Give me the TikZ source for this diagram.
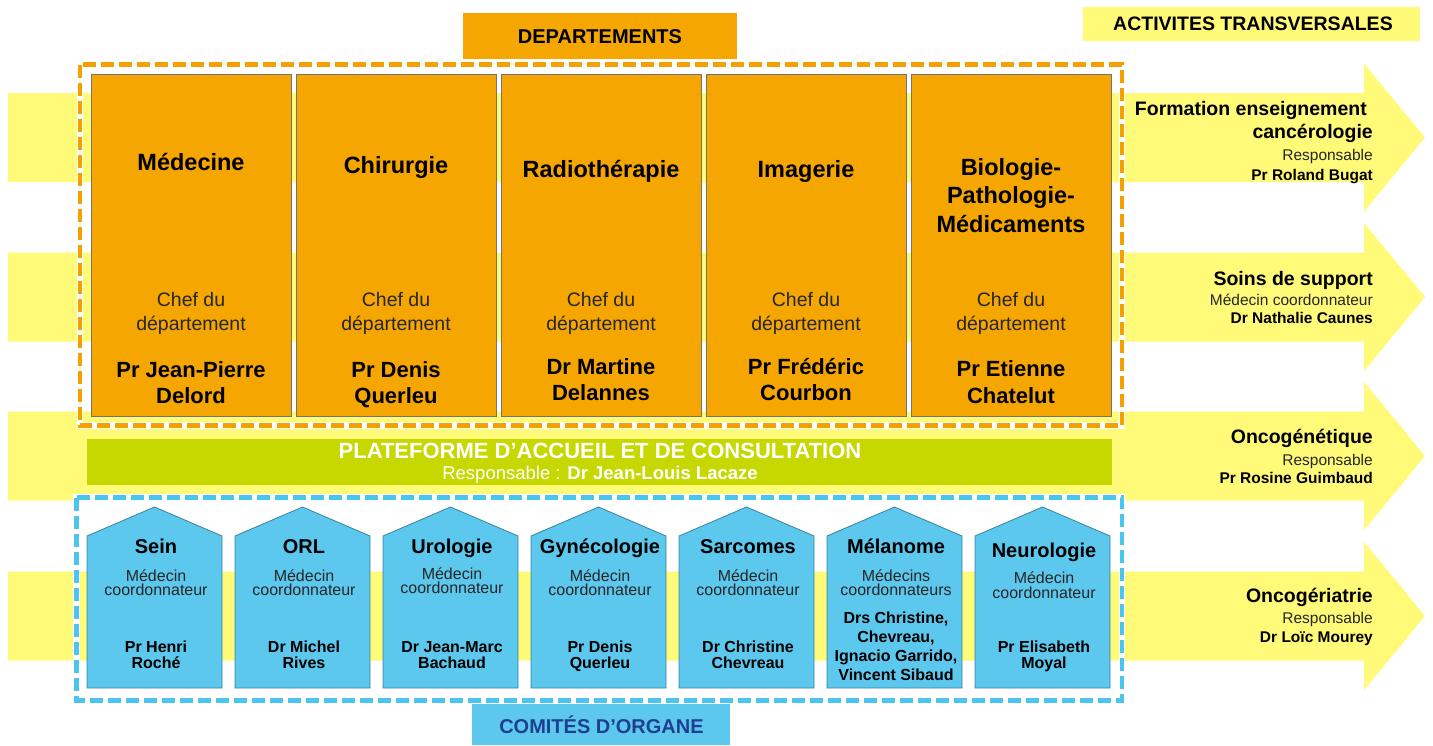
\documentclass[tikz,border=0pt]{standalone}
\usepackage{fontspec}
\setmainfont{Liberation Sans}
\definecolor{deptorange}{HTML}{F5A600}
\definecolor{bandyellow}{HTML}{FFFA78}
\definecolor{organblue}{HTML}{5CC8EE}
\definecolor{platgreen}{HTML}{C6D800}
\definecolor{navyblue}{HTML}{1F3F8F}
\definecolor{dashorange}{HTML}{F5A000}
\definecolor{dashblue}{HTML}{4CC4F0}
\newcommand\fDT{\fontsize{23.5}{28}\selectfont\bfseries}
\newcommand\fDS{\fontsize{19.5}{24}\selectfont}
\newcommand\fDN{\fontsize{22}{26}\selectfont\bfseries}
\newcommand\fAT{\fontsize{19.5}{23}\selectfont\bfseries}
\newcommand\fAS{\fontsize{15.5}{19}\selectfont}
\newcommand\fAN{\fontsize{15.5}{19}\selectfont\bfseries}
\newcommand\fOT{\fontsize{20}{24}\selectfont\bfseries}
\newcommand\fOS{\fontsize{16}{18}\selectfont}
\newcommand\fON{\fontsize{16}{18}\selectfont\bfseries}
\begin{document}
\begin{tikzpicture}[x=1pt,y=-1pt,
  bandarrow/.style={fill=bandyellow,draw=none},
  deptbox/.style={fill=deptorange,draw=black!55,line width=0.8pt},
  organbox/.style={fill=organblue,draw=black!35!organblue,line width=0.8pt},
  under/.style={draw=white,line width=6.5pt},
  odash/.style={draw=dashorange,line width=4.5pt,dash pattern=on 13pt off 5pt},
  bdash/.style={draw=dashblue,line width=4.5pt,dash pattern=on 13pt off 5pt},
  txt/.style={inner sep=0pt,anchor=base,align=center},
  rtxt/.style={inner sep=0pt,anchor=base east},
  soft/.style={text=black!85}]
\useasboundingbox (0,0) rectangle (1433,745);
\fill[white] (0,0) rectangle (1433,745);
% transversal arrows
\foreach \c in {137.5,297,456,616}{
  \fill[bandarrow] (8,\c-44.5) -- (1364,\c-44.5) -- (1364,\c-74) -- (1425,\c)
    -- (1364,\c+74) -- (1364,\c+44.5) -- (8,\c+44.5) -- cycle;
}
% containers
\draw[under] (80,64.5) rectangle (1122,425.5);
\draw[odash] (80,64.5) rectangle (1122,425.5);
\draw[under] (76.5,497.5) rectangle (1122,700.5);
\draw[bdash] (76.5,497.5) rectangle (1122,700.5);
% header boxes
\node[fill=deptorange,minimum width=274pt,minimum height=46pt,inner sep=0pt] (hdept) at (600,36) {};
\node[txt] (hdeptt) at (600,43) {\fontsize{20}{24}\selectfont\bfseries DEPARTEMENTS};
\node[fill=bandyellow,minimum width=337pt,minimum height=34pt,inner sep=0pt] (htrans) at (1251.5,24) {};
\node[txt] (htranst) at (1253,30) {\fontsize{19.5}{23}\selectfont\bfseries ACTIVITES TRANSVERSALES};
% department boxes
\foreach \x [count=\i] in {91,296,501,706,911}{
  \draw[deptbox] (\x,74) rectangle (\x+200,416);
}
\node[txt] (m1) at (191,170) {\fDT Médecine};
\node[txt] (m2) at (396,173) {\fDT Chirurgie};
\node[txt] (m3) at (601,177) {\fDT Radiothérapie};
\node[txt] (m4) at (806,177) {\fDT Imagerie};
\node[txt] (m5a) at (1011,175) {\fDT Biologie-};
\node[txt] (m5b) at (1011,203.5) {\fDT Pathologie-};
\node[txt] (m5c) at (1011,232) {\fDT Médicaments};
\foreach \x [count=\i] in {191,396,601,806,1011}{
  \node[txt,soft] (c\i a) at (\x,306.5) {\fDS Chef du};
  \node[txt,soft] (c\i b) at (\x,330) {\fDS département};
}
\node[txt] (n1a) at (191,377) {\fDN Pr Jean-Pierre};
\node[txt] (n1b) at (191,403) {\fDN Delord};
\node[txt] (n2a) at (396,377) {\fDN Pr Denis};
\node[txt] (n2b) at (396,403) {\fDN Querleu};
\node[txt] (n3a) at (601,374) {\fDN Dr Martine};
\node[txt] (n3b) at (601,400) {\fDN Delannes};
\node[txt] (n4a) at (806,374) {\fDN Pr Frédéric};
\node[txt] (n4b) at (806,400) {\fDN Courbon};
\node[txt] (n5a) at (1011,376) {\fDN Pr Etienne};
\node[txt] (n5b) at (1011,403) {\fDN Chatelut};
% platform
\node[fill=platgreen,minimum width=1025pt,minimum height=46pt,inner sep=0pt] (plat) at (599.5,462) {};
\node[txt,text=white] (platt) at (600,458) {\fontsize{22}{26}\selectfont\bfseries PLATEFORME D’ACCUEIL ET DE CONSULTATION};
\node[txt,text=white] (plats) at (600,479) {\fontsize{18.5}{22}\selectfont Responsable : \textbf{Dr Jean-Louis Lacaze}};
% organ committees
\foreach \x in {87,235,383,531,679,827,975}{
  \draw[organbox] (\x,536) -- (\x+67.5,507) -- (\x+135,536) -- (\x+135,688) -- (\x,688) -- cycle;
}
\node[txt] (o1) at (156,553) {\fOT Sein};
\node[txt] (o2) at (304,553) {\fOT ORL};
\node[txt] (o3) at (452,553) {\fOT Urologie};
\node[txt] (o4) at (600,553) {\fOT Gynécologie};
\node[txt] (o5) at (748,553) {\fOT Sarcomes};
\node[txt] (o6) at (896,553) {\fOT Mélanome};
\node[txt] (o7) at (1044,557) {\fOT Neurologie};
\foreach \x/\ya/\yb [count=\i] in {156/581/595,304/581/595,452/579/593,600/581/595,748/581/595,1044/583/598}{
  \node[txt,soft] (s\i a) at (\x,\ya) {\fOS Médecin};
  \node[txt,soft] (s\i b) at (\x,\yb) {\fOS coordonnateur};
}
\node[txt,soft] (s6ma) at (896,581) {\fOS Médecins};
\node[txt,soft] (s6mb) at (896,595) {\fOS coordonnateurs};
\node[txt] (p1a) at (156,652) {\fON Pr Henri};
\node[txt] (p1b) at (156,668.5) {\fON Roché};
\node[txt] (p2a) at (304,652) {\fON Dr Michel};
\node[txt] (p2b) at (304,668.5) {\fON Rives};
\node[txt] (p3a) at (452,652) {\fON Dr Jean-Marc};
\node[txt] (p3b) at (452,668.5) {\fON Bachaud};
\node[txt] (p4a) at (600,652) {\fON Pr Denis};
\node[txt] (p4b) at (600,668.5) {\fON Querleu};
\node[txt] (p5a) at (748,652) {\fON Dr Christine};
\node[txt] (p5b) at (748,668.5) {\fON Chevreau};
\node[txt] (p6a) at (896,623) {\fON Drs Christine,};
\node[txt] (p6b) at (896,642) {\fON Chevreau,};
\node[txt] (p6c) at (896,661) {\fON Ignacio Garrido,};
\node[txt] (p6d) at (896,680) {\fON Vincent Sibaud};
\node[txt] (p7a) at (1044,652) {\fON Pr Elisabeth};
\node[txt] (p7b) at (1044,668.5) {\fON Moyal};
% comites label
\node[fill=organblue,minimum width=258pt,minimum height=41pt,inner sep=0pt] (comb) at (601,724.5) {};
\node[txt,text=navyblue] (comt) at (601.5,733) {\fontsize{20}{24}\selectfont\bfseries COMITÉS D’ORGANE};
% transversal texts
\node[rtxt] (a1a) at (1367,115) {\fAT Formation enseignement};
\node[rtxt] (a1b) at (1373,138) {\fAT cancérologie};
\node[rtxt,soft] (a1c) at (1373,160) {\fAS Responsable};
\node[rtxt] (a1d) at (1373,180) {\fAN Pr Roland Bugat};
\node[rtxt] (a2a) at (1373,285) {\fAT Soins de support};
\node[rtxt,soft] (a2b) at (1373,305) {\fAS Médecin coordonnateur};
\node[rtxt] (a2c) at (1373,323) {\fAN Dr Nathalie Caunes};
\node[rtxt] (a3a) at (1373,443) {\fAT Oncogénétique};
\node[rtxt,soft] (a3b) at (1373,465) {\fAS Responsable};
\node[rtxt] (a3c) at (1373,483) {\fAN Pr Rosine Guimbaud};
\node[rtxt] (a4a) at (1373,602) {\fAT Oncogériatrie};
\node[rtxt,soft] (a4b) at (1373,623) {\fAS Responsable};
\node[rtxt] (a4c) at (1373,642) {\fAN Dr Loïc Mourey};
\end{tikzpicture}
\end{document}
